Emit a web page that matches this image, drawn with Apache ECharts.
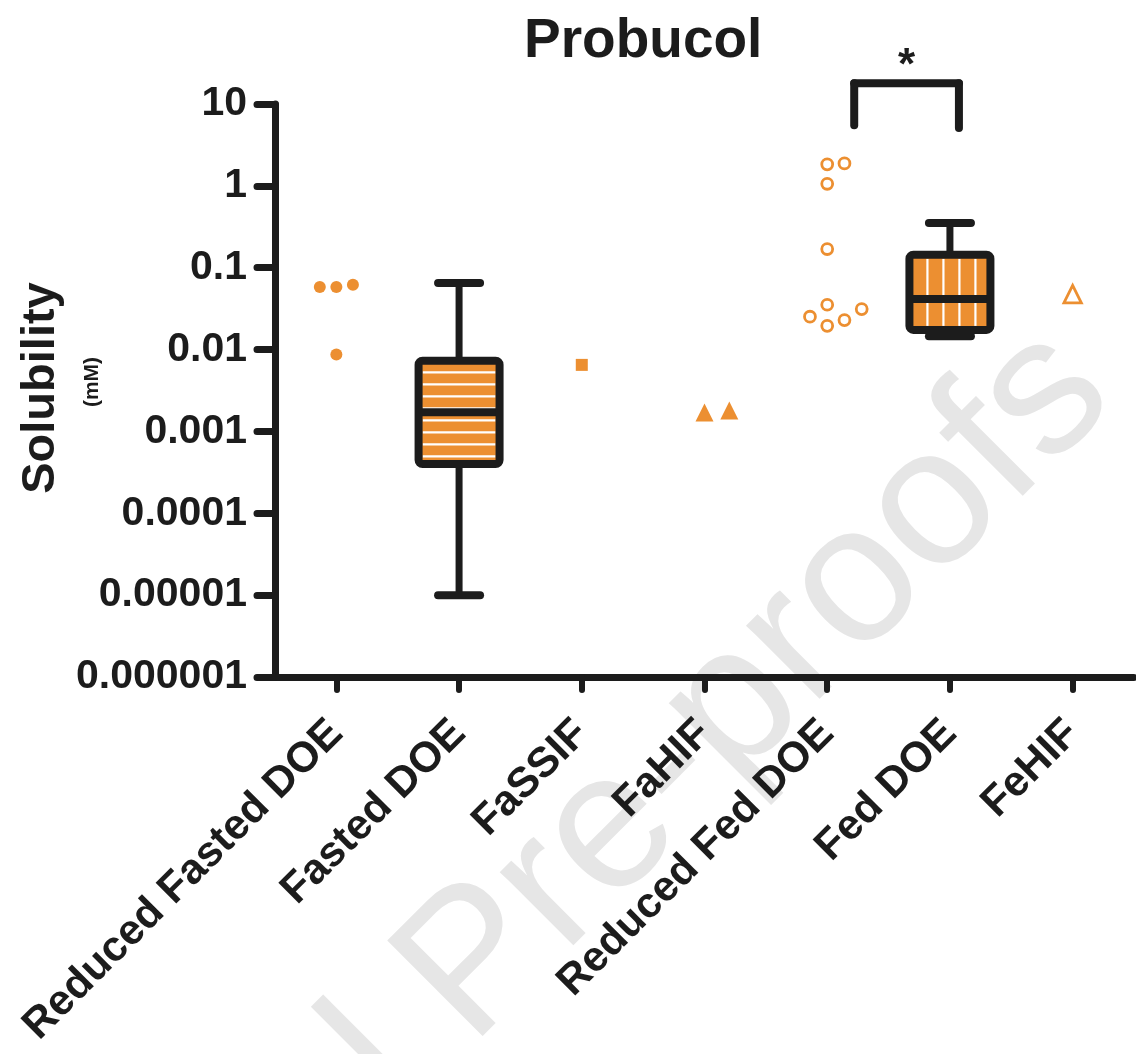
<!DOCTYPE html>
<html>
<head>
<meta charset="utf-8">
<title>Probucol</title>
<script src="https://cdn.jsdelivr.net/npm/echarts@6/dist/echarts.min.js"></script>
<style>
  html, body { margin: 0; padding: 0; background: #fff; }
  #chart { width: 1136px; height: 1054px; }
</style>
</head>
<body>
<div id="chart"></div>
<script>
const categories = ['Reduced Fasted DOE', 'Fasted DOE', 'FaSSIF', 'FaHIF', 'Reduced Fed DOE', 'Fed DOE', 'FeHIF']
const yTickLabels = ['0.000001', '0.00001', '0.0001', '0.001', '0.01', '0.1', '1', '10']

// single measurements (mM), listed in the order the swarm places them
const reducedFastedDOE = [0.058, 0.062, 0.058, 0.0087]
const faSSIF = [0.0065]
const faHIF = [0.0017, 0.0018]
const reducedFedDOE = [1.83, 1.88, 1.06, 0.169, 0.0353, 0.0229, 0.0252, 0.0312, 0.0195]
const feHIF = [0.0476]

// box plots: [category index, min, Q1, median, Q3, max]
const fastedDOEBox = [1, 0.00001, 0.0004, 0.00172, 0.0073, 0.065]
const fedDOEBox = [5, 0.0145, 0.0174, 0.0414, 0.144, 0.352]

// significance bracket: [from category, to category, top, left end, right end]
const bracket = [4, 5, 17.9, 5.5, 5.1]

const INK = '#1c1c1c'
const ORANGE = '#ec8f31'
const FONT = '"Liberation Sans", Arial, Helvetica, sans-serif'

const chart = echarts.init(document.getElementById('chart'))

function seg(x1, y1, x2, y2, w, color, cap) {
  return {
    type: 'line',
    shape: { x1, y1, x2, y2 },
    style: { stroke: color || INK, lineWidth: w, lineCap: cap || 'round' }
  }
}

// box with whiskers, white stripes ('h' or 'v') and a heavy outline
function boxRenderer(stripes) {
  return function (params, api) {
    const c = api.value(0)
    const pMin = api.coord([c, api.value(1)])
    const pQ1 = api.coord([c, api.value(2)])
    const pMed = api.coord([c, api.value(3)])
    const pQ3 = api.coord([c, api.value(4)])
    const pMax = api.coord([c, api.value(5)])
    const cx = pMed[0]
    const left = cx - 40.5
    const right = cx + 40.5
    const top = pQ3[1]
    const bottom = pQ1[1]
    const kids = [
      seg(cx, pMax[1], cx, top, 7),
      seg(cx, bottom, cx, pMin[1], 7),
      seg(cx - 21, pMax[1], cx + 21, pMax[1], 8),
      seg(cx - 21, pMin[1], cx + 21, pMin[1], 8),
      { type: 'rect', shape: { x: left, y: top, width: right - left, height: bottom - top }, style: { fill: ORANGE } }
    ]
    if (stripes === 'h') {
      for (let y = top + 11.7; y < bottom - 4; y += 12) {
        kids.push(seg(left + 4, y, right - 4, y, 2.2, '#fff', 'butt'))
      }
    } else {
      for (let x = left + 18; x < right - 4; x += 16) {
        kids.push(seg(x, top + 4, x, bottom - 4, 2.2, '#fff', 'butt'))
      }
    }
    kids.push(seg(left, pMed[1], right, pMed[1], 8, INK, 'butt'))
    kids.push({
      type: 'rect',
      shape: { x: left, y: top, width: right - left, height: bottom - top, r: 4 },
      style: { fill: 'none', stroke: INK, lineWidth: 8, lineJoin: 'round' }
    })
    return { type: 'group', children: kids }
  }
}

function bracketRenderer(params, api) {
  const pl = api.coord([api.value(0), api.value(2)])
  const pr = api.coord([api.value(1), api.value(2)])
  const yl = api.coord([api.value(0), api.value(3)])[1]
  const yr = api.coord([api.value(1), api.value(4)])[1]
  const xl = pl[0] + 27
  const xr = pr[0] + 9
  return {
    type: 'group',
    children: [
      seg(xl, pl[1], xr, pr[1], 8),
      seg(xl, pl[1], xl, yl, 8),
      seg(xr, pr[1], xr, yr, 8),
      {
        type: 'text',
        x: (xl + xr) / 2,
        y: pl[1] + 6,
        style: { text: '*', fill: INK, font: 'bold 44px ' + FONT, align: 'center', verticalAlign: 'bottom' }
      }
    ]
  }
}

const pointGroups = [
  { name: 'Reduced Fasted DOE', cat: 0, values: reducedFastedDOE, symbol: 'circle', size: 12, open: false },
  { name: 'FaSSIF', cat: 2, values: faSSIF, symbol: 'rect', size: 12, open: false },
  { name: 'FaHIF', cat: 3, values: faHIF, symbol: 'triangle', size: 18, open: false },
  { name: 'Reduced Fed DOE', cat: 4, values: reducedFedDOE, symbol: 'circle', size: 12.5, open: true },
  { name: 'FeHIF', cat: 6, values: feHIF, symbol: 'triangle', size: 19, open: true }
]

function scatterSeries(g, data) {
  return {
    name: g.name,
    type: 'scatter',
    symbol: g.symbol,
    symbolSize: g.open ? g.size - 1.6 : g.size,
    itemStyle: g.open
      ? { color: '#fff', borderColor: ORANGE, borderWidth: 2.8, opacity: 1 }
      : { color: ORANGE, opacity: 1 },
    z: 5,
    data: data || g.values.map(v => [g.cat, v])
  }
}

const option = {
  animation: false,
  backgroundColor: '#fff',
  title: {
    text: 'Probucol',
    left: 519,
    top: 9,
    textStyle: { fontFamily: FONT, fontWeight: 'bold', fontSize: 55, color: INK }
  },
  grid: { left: 275, right: 2, top: 104, bottom: 377, containLabel: false },
  xAxis: {
    type: 'category',
    data: categories,
    axisLine: { show: true, lineStyle: { color: INK, width: 7 } },
    axisTick: { show: true, alignWithLabel: true, length: 13, lineStyle: { color: INK, width: 6, cap: 'round' } },
    axisLabel: {
      interval: 0,
      rotate: 45,
      margin: 50,
      color: INK,
      fontFamily: FONT,
      fontWeight: 'bold',
      fontSize: 42.5
    },
    splitLine: { show: false }
  },
  yAxis: {
    type: 'log',
    logBase: 10,
    min: 1e-6,
    max: 10,
    splitNumber: 7,
    axisLine: { show: true, lineStyle: { color: INK, width: 7, cap: 'round' } },
    axisTick: { show: true, length: 18, lineStyle: { color: INK, width: 7, cap: 'round' } },
    axisLabel: {
      margin: 28,
      color: INK,
      fontFamily: FONT,
      fontWeight: 'bold',
      fontSize: 41,
      formatter: v => yTickLabels[Math.round(Math.log10(v)) + 6]
    },
    splitLine: { show: false },
    minorTick: { show: false }
  },
  graphic: [
    {
      type: 'text',
      x: 1080,
      y: 362,
      rotation: Math.PI / 4,
      z: -10,
      silent: true,
      style: {
        text: 'Journal Pre-proofs',
        font: '196px ' + FONT,
        fill: '#e6e6e6',
        align: 'right',
        verticalAlign: 'middle'
      }
    },
    {
      type: 'text',
      x: 41,
      y: 388,
      rotation: Math.PI / 2,
      style: { text: 'Solubility', font: 'bold 47px ' + FONT, fill: INK, align: 'center', verticalAlign: 'middle' }
    },
    {
      type: 'text',
      x: 92,
      y: 382,
      rotation: Math.PI / 2,
      style: { text: '(mM)', font: 'bold 21px ' + FONT, fill: INK, align: 'center', verticalAlign: 'middle' }
    }
  ],
  series: [
    {
      type: 'custom',
      name: 'Fasted DOE',
      renderItem: boxRenderer('h'),
      encode: { x: 0, y: [1, 2, 3, 4, 5] },
      clip: false,
      z: 3,
      data: [fastedDOEBox]
    },
    {
      type: 'custom',
      name: 'Fed DOE',
      renderItem: boxRenderer('v'),
      encode: { x: 0, y: [1, 2, 3, 4, 5] },
      clip: false,
      z: 3,
      data: [fedDOEBox]
    },
    {
      type: 'custom',
      name: 'significance',
      renderItem: bracketRenderer,
      encode: { x: 0, y: 2 },
      clip: false,
      z: 4,
      data: [bracket]
    },
    ...pointGroups.map(g => scatterSeries(g))
  ]
}

chart.setOption(option)

// spread points that would overlap into side-by-side columns (beeswarm)
function swarm(g) {
  const slot = g.size * 1.38
  const minDist = g.size * 1.34
  const placed = []
  return g.values.map(v => {
    const y = chart.convertToPixel({ yAxisIndex: 0 }, v)
    let k = 0
    for (const cand of [0, 1, -1, 2, -2, 3, -3]) {
      const dx = cand * slot
      if (placed.every(p => Math.hypot(p[0] - dx, p[1] - y) >= minDist)) { k = cand; break }
    }
    placed.push([k * slot, y])
    return { value: [g.cat, v], symbolOffset: [k * slot, 0] }
  })
}

chart.setOption({
  series: pointGroups.map(g => ({ name: g.name, data: swarm(g) }))
})
</script>
</body>
</html>
